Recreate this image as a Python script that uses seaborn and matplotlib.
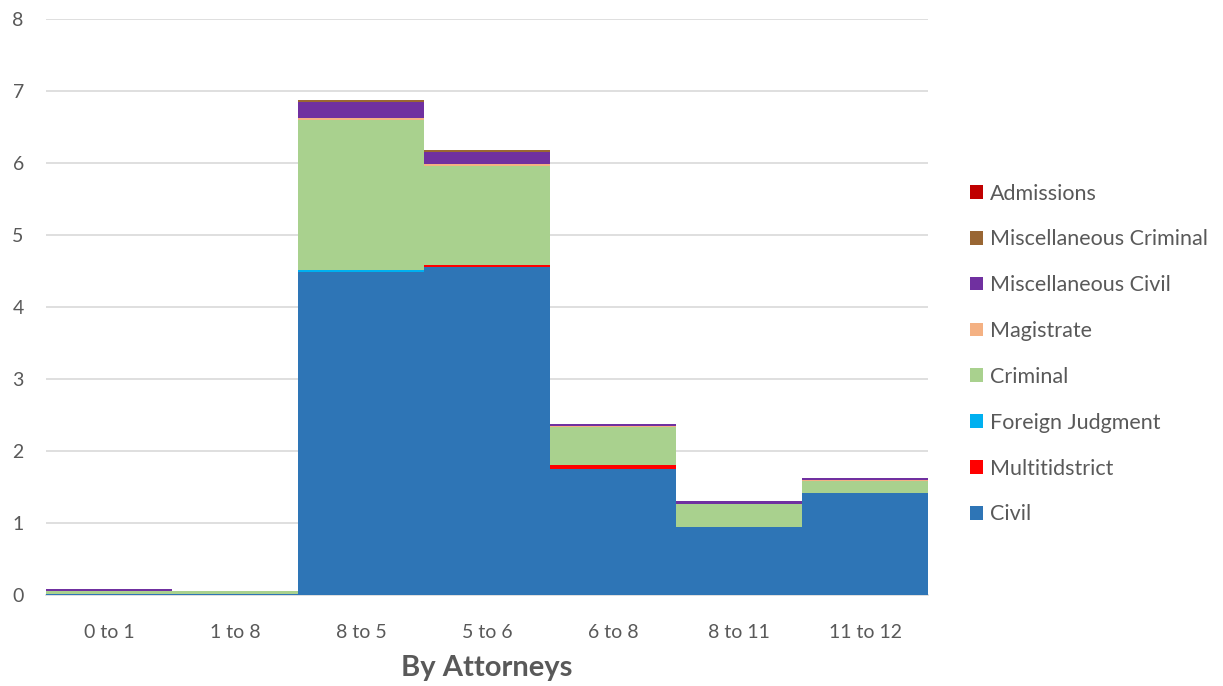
import matplotlib
matplotlib.use("Agg")
import matplotlib.pyplot as plt
import seaborn as sns
import pandas as pd
import numpy as np
from matplotlib.patches import Patch

categories = ["0 to 1", "1 to 8", "8 to 5", "5 to 6", "6 to 8", "8 to 11", "11 to 12"]

civil = [0.02, 0.02, 4.48, 4.56, 1.75, 0.94, 1.41]
multitidstrict = [0.0, 0.0, 0.01, 0.03, 0.06, 0.0, 0.0]
foreign_judgment = [0.0, 0.0, 0.03, 0.0, 0.0, 0.0, 0.0]
criminal = [0.03, 0.03, 2.08, 1.37, 0.52, 0.32, 0.17]
magistrate = [0.0, 0.0, 0.03, 0.03, 0.01, 0.01, 0.01]
misc_civil = [0.03, 0.0, 0.22, 0.16, 0.03, 0.03, 0.03]
misc_criminal = [0.0, 0.0, 0.03, 0.03, 0.01, 0.0, 0.0]
admissions = [0.0, 0.0, 0.0, 0.0, 0.0, 0.0, 0.0]

series = ["Civil", "Multitidstrict", "Foreign Judgment", "Criminal", "Magistrate",
          "Miscellaneous Civil", "Miscellaneous Criminal", "Admissions"]
values = [civil, multitidstrict, foreign_judgment, criminal, magistrate,
          misc_civil, misc_criminal, admissions]
colors = ["#2E75B6", "#FF0000", "#00B0F0", "#A9D18E", "#F4B183",
          "#7030A0", "#996633", "#C00000"]

df = pd.DataFrame(dict(zip(series, values)), index=categories)
cum = df.cumsum(axis=1)

sns.set_style("white")
plt.rcParams["font.family"] = ["Lato", "DejaVu Sans"]

fig = plt.figure(figsize=(12.23, 6.86), dpi=100)
ax = fig.add_axes([0.0376, 0.1327, 0.7214, 0.8396])

# stacked bars: draw cumulative totals from the top layer down
for s, c in reversed(list(zip(series, colors))):
    sns.barplot(x=categories, y=cum[s].values, color=c, width=1.0,
                linewidth=0, saturation=1, ax=ax, zorder=3)

ax.set_ylim(0, 8)
ax.set_xlim(-0.5, 6.5)
ax.set_yticks(range(0, 9))
ax.yaxis.grid(True, color="#D9D9D9", linewidth=1.2, zorder=0)
ax.set_axisbelow(True)
for sp in ["top", "right", "left"]:
    ax.spines[sp].set_visible(False)
ax.spines["bottom"].set_color("#D9D9D9")
ax.spines["bottom"].set_linewidth(1.2)
ax.tick_params(axis="both", length=0, labelsize=14, labelcolor="#595959")
ax.tick_params(axis="y", pad=16)
ax.tick_params(axis="x", pad=21)
ax.set_xlabel("By Attorneys", fontsize=21, fontweight="bold", color="#595959", labelpad=10)
ax.set_ylabel("")

handles = [Patch(facecolor=c, edgecolor="none", label=s)
           for s, c in reversed(list(zip(series, colors)))]
fig.legend(handles=handles, loc="center left", bbox_to_anchor=(0.793, 0.484),
           frameon=False, fontsize=15.5, labelcolor="#595959",
           handlelength=0.6, handleheight=0.6, handletextpad=0.35,
           labelspacing=1.2, borderpad=0, borderaxespad=0)

fig.savefig("out.png", dpi=100)
